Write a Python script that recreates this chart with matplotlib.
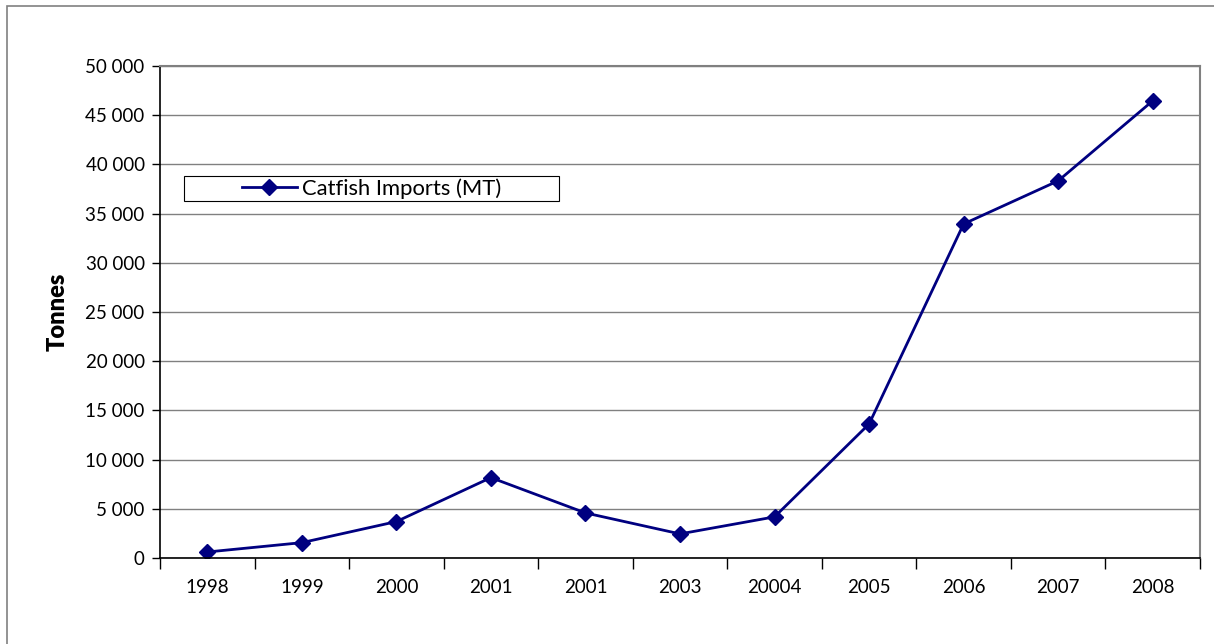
import matplotlib
matplotlib.use("Agg")
import matplotlib.pyplot as plt
from matplotlib.patches import Rectangle
from matplotlib.ticker import FuncFormatter, MultipleLocator, FixedLocator

categories = ["1998", "1999", "2000", "2001", "2001", "2003", "20004", "2005", "2006", "2007", "2008"]
imports = [610, 1560, 3700, 8170, 4580, 2450, 4180, 13620, 33950, 38330, 46460]
series_name = "Catfish Imports (MT)"
y_label = "Tonnes"

plt.rcParams['font.family'] = ['Lato', 'DejaVu Sans']

W, H = 1214, 644
fig = plt.figure(figsize=(W / 100, H / 100), dpi=100)

# outer chart border
fig.patches.append(Rectangle((7 / W, -0.01), 1.05, 1 - 6 / H + 0.01, transform=fig.transFigure,
                             fill=False, edgecolor="#808080", linewidth=1.2))

AX_L, AX_B, AX_W, AX_H = 160, 558, 1040, 492
ax = fig.add_axes([AX_L / W, (H - AX_B) / H, AX_W / W, AX_H / H])
x = list(range(len(categories)))
ax.plot(x, imports, color="#000080", linewidth=2, marker="D", markersize=8.5,
        markerfacecolor="#000080", markeredgecolor="#000080", label=series_name)

ax.set_xlim(-0.5, len(categories) - 0.5)
ax.set_ylim(0, 50000)
ax.yaxis.set_major_locator(MultipleLocator(5000))
ax.yaxis.set_major_formatter(FuncFormatter(lambda v, p: f"{int(v):,}".replace(",", " ")))
ax.yaxis.grid(True, color="#808080", linewidth=1)
ax.set_axisbelow(True)

ax.xaxis.set_major_locator(FixedLocator([i - 0.5 for i in range(len(categories) + 1)]))
ax.xaxis.set_major_formatter(FuncFormatter(lambda v, p: ""))
ax.xaxis.set_minor_locator(FixedLocator(x))
ax.set_xticklabels(categories, minor=True)
ax.tick_params(axis="x", which="major", length=8, direction="out", color="black", width=1)
ax.tick_params(axis="x", which="minor", length=0, labelsize=13.5, pad=15)
ax.tick_params(axis="y", length=6, labelsize=13.5, pad=5, width=1)

for s in ["top", "right"]:
    ax.spines[s].set_color("#808080")
    ax.spines[s].set_linewidth(1.5)
for s in ["left", "bottom"]:
    ax.spines[s].set_color("black")
    ax.spines[s].set_linewidth(1.2)

ax.set_ylabel(y_label, fontsize=17, fontweight="heavy", labelpad=12)

# legend box (frame drawn separately to match the wide reference box)
bx0, by0, bx1, by1 = 184, 176, 559, 201
ax.add_patch(Rectangle(((bx0 - AX_L) / AX_W, (AX_B - by1) / AX_H),
                       (bx1 - bx0) / AX_W, (by1 - by0) / AX_H,
                       transform=ax.transAxes, fill=True, facecolor="white",
                       edgecolor="black", linewidth=0.8, zorder=4))
cx = ((bx0 + bx1) / 2 - AX_L) / AX_W
cy = (AX_B - (by0 + by1) / 2) / AX_H
leg = ax.legend(loc="center", bbox_to_anchor=(cx, cy), fontsize=15.8,
                frameon=False, handlelength=2.5, handletextpad=0.25, borderpad=0)
leg.set_zorder(5)

fig.savefig("out.png", dpi=100)
